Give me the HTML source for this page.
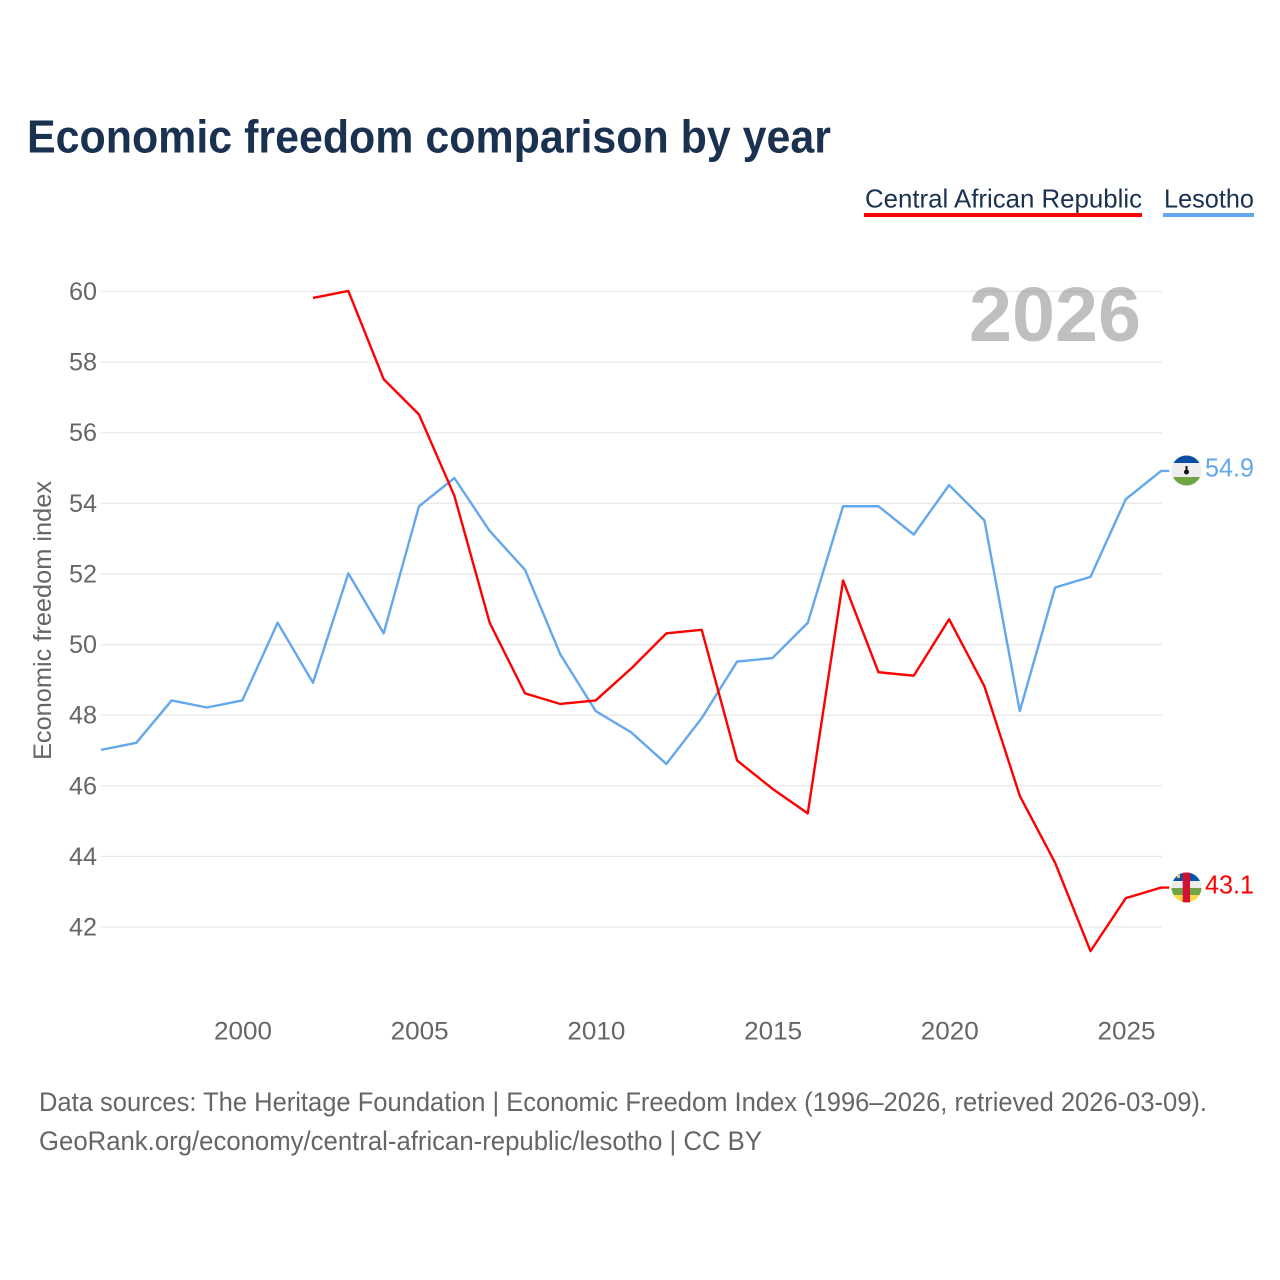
<!DOCTYPE html>
<html lang="en">
<head>
<meta charset="utf-8">
<title>Economic freedom comparison by year</title>
<style>
html,body{margin:0;padding:0;background:#fff;width:1280px;height:1280px;overflow:hidden}
svg{display:block}
text{font-family:"Liberation Sans",sans-serif}
</style>
</head>
<body>
<svg id="chart" xmlns="http://www.w3.org/2000/svg" width="1280" height="1280" viewBox="0 0 1280 1280">
  <defs>
    <clipPath id="clip-ls"><circle cx="1186.5" cy="470.5" r="15"/></clipPath>
    <clipPath id="clip-cf"><circle cx="1186.5" cy="887.5" r="15"/></clipPath>
  </defs>
  <rect x="0" y="0" width="1280" height="1280" fill="#fff"/>
  <text x="27" y="152.5" font-size="46" font-weight="700" fill="#1a3150" textLength="804" lengthAdjust="spacingAndGlyphs">Economic freedom comparison by year</text>

  <g>
    <text x="865" y="207.5" font-size="26" fill="#1a3150" textLength="277" lengthAdjust="spacingAndGlyphs">Central African Republic</text>
    <rect x="864" y="213" width="278" height="4" fill="#ff0000"/>
  </g>
  <g>
    <text x="1164" y="207.5" font-size="26" fill="#1a3150" textLength="90" lengthAdjust="spacingAndGlyphs">Lesotho</text>
    <rect x="1163" y="213" width="91" height="4" fill="#63a7ec"/>
  </g>

  <g id="grid"></g>
  <g id="yticks"></g>
  <g id="xticks"></g>

  <text transform="translate(51,760) rotate(-90)" x="0" y="0" font-size="25" fill="#666666" textLength="279" lengthAdjust="spacingAndGlyphs">Economic freedom index</text>
  <text x="969" y="341" font-size="77" font-weight="700" fill="#808080" fill-opacity="0.5" textLength="172" lengthAdjust="spacingAndGlyphs">2026</text>

  <g id="series" transform="translate(-0.7,-0.6)"></g>

  <g clip-path="url(#clip-ls)">
    <rect x="1171" y="455" width="31" height="32" fill="#ededed"/>
    <rect x="1171" y="455" width="31" height="8" fill="#0a4ea2"/>
    <rect x="1171" y="477" width="31" height="10" fill="#6fa544"/>
    <circle cx="1186.5" cy="472" r="2.5" fill="#111"/>
    <rect x="1185.5" y="466" width="2" height="6" fill="#111"/>
  </g>
  <text x="1205" y="476.5" font-size="26" fill="#63a7ec" textLength="49" lengthAdjust="spacingAndGlyphs">54.9</text>

  <g clip-path="url(#clip-cf)">
    <rect x="1171" y="872" width="31" height="9" fill="#0a52a8"/>
    <rect x="1171" y="881" width="31" height="7" fill="#ededed"/>
    <rect x="1171" y="888" width="31" height="7" fill="#6fa544"/>
    <rect x="1171" y="895" width="31" height="9" fill="#fcd84a"/>
    <rect x="1182.7" y="872" width="7.3" height="32" fill="#d21034"/>
    <rect x="1177" y="875" width="3" height="3" fill="#e8c860"/>
  </g>
  <text x="1205" y="893.5" font-size="26" fill="#ff0000" textLength="49" lengthAdjust="spacingAndGlyphs">43.1</text>

  <text x="39" y="1111" font-size="27" fill="#666666" textLength="1168" lengthAdjust="spacingAndGlyphs">Data sources: The Heritage Foundation | Economic Freedom Index (1996–2026, retrieved 2026-03-09).</text>
  <text x="39" y="1150" font-size="27" fill="#666666" textLength="723" lengthAdjust="spacingAndGlyphs">GeoRank.org/economy/central-african-republic/lesotho | CC BY</text>
</svg>
<script>
const years = [1996,1997,1998,1999,2000,2001,2002,2003,2004,2005,2006,2007,2008,2009,2010,2011,2012,2013,2014,2015,2016,2017,2018,2019,2020,2021,2022,2023,2024,2025,2026];
const lesothoValues = [47.0,47.2,48.4,48.2,48.4,50.6,48.9,52.0,50.3,53.9,54.7,53.2,52.1,49.7,48.1,47.5,46.6,47.9,49.5,49.6,50.6,53.9,53.9,53.1,54.5,53.5,48.1,51.6,51.9,54.1,54.9];
const carValues = [null,null,null,null,null,null,59.8,60.0,57.5,56.5,54.2,50.6,48.6,48.3,48.4,49.3,50.3,50.4,46.7,45.9,45.2,51.8,49.2,49.1,50.7,48.8,45.7,43.8,41.3,42.8,43.1];
const yTicks = [42,44,46,48,50,52,54,56,58,60];
const xTicks = [2000,2005,2010,2015,2020,2025];

const NS = 'http://www.w3.org/2000/svg';
function xScale(year){ return 243 + (year - 2000) * (1126.5 - 243) / 25; }
function yScale(v){ return 927 + (v - 42) * (291.5 - 927) / 18; }

const gridGroup = document.getElementById('grid');
const yGroup = document.getElementById('yticks');
const xGroup = document.getElementById('xticks');
const seriesGroup = document.getElementById('series');

yTicks.forEach(function(t){
  const line = document.createElementNS(NS,'line');
  
  
  line.setAttribute('x1', 101);
  line.setAttribute('x2', 1162);
  line.setAttribute('y1', yScale(t));
  line.setAttribute('y2', yScale(t));
  line.setAttribute('stroke', '#e9e9e9');
  line.setAttribute('stroke-width', 1.3);
  gridGroup.appendChild(line);

  const label = document.createElementNS(NS,'text');
  
  
  label.setAttribute('x', 69);
  label.setAttribute('y', yScale(t) + 8.5);
  label.setAttribute('font-size', 25);
  label.setAttribute('fill', '#666666');
  label.setAttribute('textLength', 28);
  label.setAttribute('lengthAdjust', 'spacingAndGlyphs');
  label.textContent = t;
  yGroup.appendChild(label);
});

xTicks.forEach(function(t){
  const label = document.createElementNS(NS,'text');
  
  
  label.setAttribute('x', xScale(t) - 29);
  label.setAttribute('y', 1039.5);
  label.setAttribute('font-size', 25);
  label.setAttribute('fill', '#666666');
  label.setAttribute('textLength', 58);
  label.setAttribute('lengthAdjust', 'spacingAndGlyphs');
  label.textContent = t;
  xGroup.appendChild(label);
});

function pathFor(values){
  const pts = [];
  values.forEach(function(v,i){
    if (v !== null) pts.push(xScale(years[i]).toFixed(2) + ',' + yScale(v).toFixed(2));
  });
  const last = values[values.length - 1];
  pts.push('1170,' + yScale(last).toFixed(2));
  return 'M' + pts.join('L');
}

const lesothoLine = document.createElementNS(NS,'path');


lesothoLine.setAttribute('d', pathFor(lesothoValues));
lesothoLine.setAttribute('fill', 'none');
lesothoLine.setAttribute('stroke', '#63a7ec');
lesothoLine.setAttribute('stroke-width', 2.4);
lesothoLine.setAttribute('stroke-linejoin', 'round');
seriesGroup.appendChild(lesothoLine);

const carLine = document.createElementNS(NS,'path');


carLine.setAttribute('d', pathFor(carValues));
carLine.setAttribute('fill', 'none');
carLine.setAttribute('stroke', '#ff0000');
carLine.setAttribute('stroke-width', 2.4);
carLine.setAttribute('stroke-linejoin', 'round');
seriesGroup.appendChild(carLine);
</script>
</body>
</html>
